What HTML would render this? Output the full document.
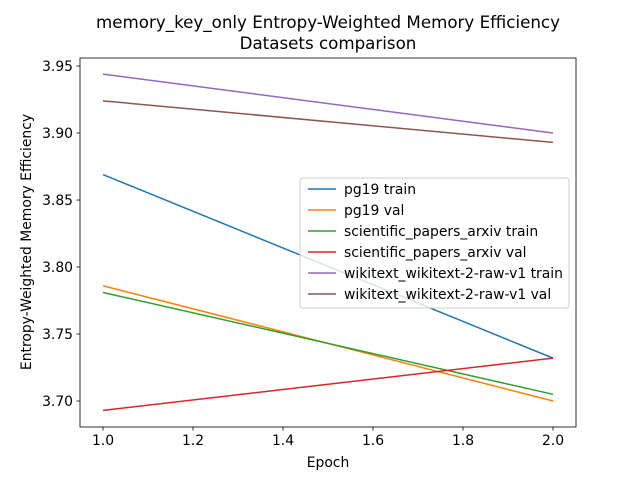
<!DOCTYPE html>
<html><head><meta charset="utf-8"><style>
body{margin:0;background:#fff;}
svg{display:block;font-family:"DejaVu Sans","Liberation Sans",sans-serif;}
</style></head><body>
<svg id="chart" width="640" height="480" xmlns="http://www.w3.org/2000/svg">
<rect width="640" height="480" fill="#fff"/>
<text x="328" y="28" font-size="16.7" text-anchor="middle">memory_key_only Entropy-Weighted Memory Efficiency</text>
<text x="328" y="49" font-size="16.7" text-anchor="middle">Datasets comparison</text>
<g id="plot"></g>
<text x="328" y="467" font-size="13.9" text-anchor="middle">Epoch</text>
<text transform="translate(31,242) rotate(-90)" font-size="13.9" text-anchor="middle">Entropy-Weighted Memory Efficiency</text>
</svg>
<script>
const epochs=[1.0,2.0];
const seriesNames=["pg19 train","pg19 val","scientific_papers_arxiv train","scientific_papers_arxiv val","wikitext_wikitext-2-raw-v1 train","wikitext_wikitext-2-raw-v1 val"];
const pg19Train=[3.869,3.732];
const pg19Val=[3.786,3.700];
const sciTrain=[3.781,3.705];
const sciVal=[3.693,3.732];
const wikiTrain=[3.944,3.900];
const wikiVal=[3.924,3.893];
const xTicks=[1.0,1.2,1.4,1.6,1.8,2.0];
const yTicks=[3.70,3.75,3.80,3.85,3.90,3.95];
const colors=["#1f77b4","#ff7f0e","#2ca02c","#d62728","#9467bd","#8c564b"];
const allSeries=[pg19Train,pg19Val,sciTrain,sciVal,wikiTrain,wikiVal];
const L=80,R=576,T=58,B=427;
const xMin=0.9489,xMax=2.0511,yMin=3.6806,yMax=3.956;
const sx=v=>L+(v-xMin)/(xMax-xMin)*(R-L);
const sy=v=>B-(v-yMin)/(yMax-yMin)*(B-T);
const NS="http://www.w3.org/2000/svg";
const g=document.getElementById('plot');
function mk(tag,attrs,parent){const e=document.createElementNS(NS,tag);for(const k in attrs)e.setAttribute(k,attrs[k]);(parent||g).appendChild(e);return e;}
allSeries.forEach((s,i)=>{
  const p=mk('polyline',{points:s.map((v,j)=>sx(epochs[j])+','+sy(v)).join(' '),fill:'none',stroke:colors[i],'stroke-width':1.5});
  
  
});
const frame=mk('rect',{x:L,y:T,width:R-L,height:B-T,fill:'none',stroke:'#000','stroke-width':0.8});


xTicks.forEach(t=>{
  mk('line',{x1:sx(t),x2:sx(t),y1:B,y2:B+3.5,stroke:'#000','stroke-width':0.8});
  const tx=mk('text',{x:sx(t),y:B+18,'font-size':13.9,'text-anchor':'middle'});
  tx.textContent=t.toFixed(1);
  
  
});
yTicks.forEach(t=>{
  mk('line',{x1:L-3.5,x2:L,y1:sy(t),y2:sy(t),stroke:'#000','stroke-width':0.8});
  const tx=mk('text',{x:L-7,y:sy(t)+5,'font-size':13.9,'text-anchor':'end'});
  tx.textContent=t.toFixed(2);
  
  
});
const lg=mk('g',{});


mk('rect',{x:300,y:178,width:269,height:130,rx:3,fill:'#fff','fill-opacity':0.8,stroke:'#ccc','stroke-width':1},lg);
seriesNames.forEach((n,i)=>{
  const y=189+i*21;
  mk('line',{x1:308,x2:336,y1:y,y2:y,stroke:colors[i],'stroke-width':1.5},lg);
  const tx=mk('text',{x:344,y:y+5,'font-size':13.9},lg);
  tx.textContent=n;
  
  
});
</script>
</body></html>
